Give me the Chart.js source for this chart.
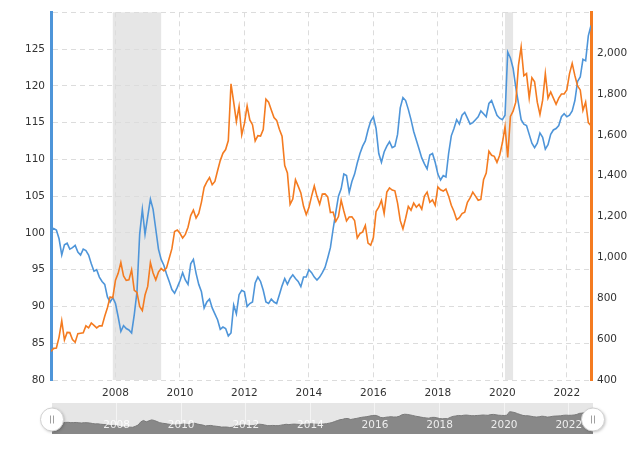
<!DOCTYPE html>
<html>
<head>
<meta charset="utf-8">
<script src="https://cdn.jsdelivr.net/npm/chart.js@4.4.0/dist/chart.umd.min.js"></script>
<style>
  html, body { margin: 0; padding: 0; background: #fff; }
  #wrap { position: relative; width: 640px; height: 450px; }
  #mainChart { position: absolute; left: 0; top: 0; }
  #navChart { position: absolute; left: 0; top: 400px; }
</style>
</head>
<body>
<div id="wrap">
  <canvas id="mainChart" width="640" height="405"></canvas>
  <canvas id="navChart" width="640" height="50"></canvas>
</div>
<script>
// Datos mensuales desde enero 2006
const startYear = 2006;

// Índice del dólar (eje izquierdo)
const dollarIndex = [
  100.2, 100.6, 100.4, 99.2, 97.0, 98.4, 98.6, 97.8, 98.0, 98.3, 97.4, 97.0,
  97.8, 97.6, 97.0, 95.8, 94.8, 95.0, 94.0, 93.4, 93.0, 91.3, 90.6, 91.2,
  90.4, 88.6, 86.6, 87.4, 87.0, 86.8, 86.4, 88.9, 92.0, 99.8, 103.2, 99.8,
  102.2, 104.6, 103.2, 100.5, 97.8, 96.4, 95.6, 94.4, 93.4, 92.3, 91.8, 92.6,
  93.5, 94.6, 93.6, 93.0, 95.8, 96.4, 94.5, 93.0, 92.0, 89.8, 90.6, 91.0,
  89.8, 89.0, 88.2, 86.9, 87.2, 87.0, 86.0, 86.4, 90.2, 89.0, 91.6, 92.2,
  92.0, 90.0, 90.4, 90.6, 93.2, 94.0, 93.4, 92.2, 90.6, 90.4, 91.0, 90.6,
  90.4, 91.6, 92.8, 93.8, 93.0, 93.8, 94.3, 93.8, 93.4, 92.7, 94.0, 94.0,
  95.0, 94.6, 94.0, 93.6, 94.0, 94.6, 95.3, 96.6, 98.0, 100.5, 102.8, 105.0,
  106.0, 108.0, 107.8, 105.5, 107.0, 108.0, 109.5, 110.8, 111.8, 112.5, 114.0, 115.2,
  115.8, 114.2, 110.8, 109.6, 111.0, 111.8, 112.4, 111.6, 111.8, 113.4, 117.0, 118.4,
  118.0, 116.8, 115.4, 113.8, 112.6, 111.4, 110.2, 109.4, 108.7, 110.6, 110.8, 109.6,
  108.0, 107.2, 107.8, 107.6, 110.8, 113.2, 114.2, 115.4, 114.8, 116.0, 116.4, 115.6,
  114.8, 115.0, 115.4, 115.8, 116.6, 116.2, 115.8, 117.6, 118.0, 117.0, 116.0, 115.6,
  115.4, 116.0, 124.6, 123.8, 122.4, 119.8, 117.6, 115.4, 114.8, 114.6, 113.4, 112.2,
  111.6, 112.2, 113.6, 113.0, 111.4, 112.0, 113.4, 114.0, 114.2, 114.6, 115.8, 116.2,
  115.8, 116.0, 116.6, 118.0, 120.6, 121.2, 123.6, 123.4, 126.8, 128.2
];

// Precio del oro (eje derecho)
const goldPrice = [
  540, 555, 557, 610, 690, 596, 633, 632, 598, 585, 627, 629,
  631, 665, 655, 679, 667, 655, 665, 665, 712, 754, 806, 803,
  889, 922, 975, 909, 888, 890, 939, 839, 829, 760, 740, 816,
  858, 975, 924, 890, 928, 946, 934, 949, 996, 1043, 1127, 1134,
  1118, 1095, 1113, 1148, 1205, 1232, 1193, 1215, 1271, 1343, 1370, 1391,
  1356, 1372, 1424, 1474, 1510, 1528, 1572, 1850, 1760, 1665, 1739, 1600,
  1656, 1742, 1673, 1650, 1570, 1596, 1594, 1626, 1775, 1760, 1722, 1685,
  1671, 1627, 1593, 1450, 1414, 1260, 1286, 1380, 1349, 1316, 1250, 1210,
  1244, 1300, 1350, 1299, 1260, 1310, 1311, 1296, 1220, 1222, 1176, 1200,
  1280, 1227, 1179, 1198, 1199, 1181, 1095, 1117, 1125, 1157, 1070, 1060,
  1097, 1225, 1246, 1280, 1215, 1320, 1340, 1330, 1326, 1266, 1180, 1140,
  1192, 1250, 1231, 1266, 1246, 1260, 1236, 1300, 1320, 1270, 1282, 1255,
  1345, 1331, 1325, 1335, 1300, 1255, 1225, 1185, 1195, 1215, 1221, 1270,
  1291, 1320, 1300, 1280, 1284, 1380, 1413, 1520, 1500, 1495, 1465, 1500,
  1560, 1640, 1490, 1690, 1716, 1760, 1940, 2030, 1890, 1900, 1780, 1880,
  1860, 1760, 1700, 1770, 1900, 1780, 1810, 1780, 1750, 1780, 1800, 1800,
  1820, 1900, 1950, 1890, 1840, 1820, 1720, 1760, 1660, 1645
];

// Marcas del eje x y recesiones (en años decimales)
const yearTicks = [2008, 2010, 2012, 2014, 2016, 2018, 2020, 2022];
const recessionStart = [2007.917, 2020.083];
const recessionEnd = [2009.417, 2020.333];

const blueColor = '#4e95d9';
const orangeColor = '#f47b20';
const gridColor = '#dcdcdc';
const fontFamily = '"DejaVu Sans", Verdana, sans-serif';

function toPoints(values) {
    return values.map((v, i) => ({ x: startYear + i / 12, y: v }));
}

const xMin = startYear;
const xMax = startYear + (dollarIndex.length - 1) / 12;

// Sombreado de recesiones
const recessionPlugin = {
    id: 'recessionShade',
    beforeDraw(chart) {
        const { ctx, chartArea, scales } = chart;
        ctx.save();
        ctx.fillStyle = '#e6e6e6';
        recessionStart.forEach((s, i) => {
            const x1 = scales.x.getPixelForValue(s);
            const x2 = scales.x.getPixelForValue(recessionEnd[i]);
            ctx.fillRect(x1, chartArea.top, x2 - x1, chartArea.bottom - chartArea.top);
        });
        ctx.restore();
    }
};

function initMainChart() {
    const ctx = document.getElementById('mainChart').getContext('2d');
    return new Chart(ctx, {
        type: 'line',
        data: {
            datasets: [{
                label: 'Gold',
                data: toPoints(goldPrice),
                yAxisID: 'yRight',
                borderColor: orangeColor,
                borderWidth: 1.6,
                pointRadius: 0,
                tension: 0
            }, {
                label: 'Dollar',
                data: toPoints(dollarIndex),
                yAxisID: 'yLeft',
                borderColor: blueColor,
                borderWidth: 1.6,
                pointRadius: 0,
                tension: 0
            }]
        },
        options: {
            responsive: false,
            animation: false,
            devicePixelRatio: 1,
            layout: { padding: { top: 10, left: 0, right: 0, bottom: 0 } },
            plugins: {
                legend: { display: false },
                tooltip: { enabled: false }
            },
            scales: {
                x: {
                    type: 'linear',
                    min: xMin,
                    max: xMax,
                    afterBuildTicks: (scale) => {
                        scale.ticks = yearTicks.map(v => ({ value: v }));
                    },
                    afterFit: (scale) => { scale.height = 25; },
                    ticks: {
                        callback: (v) => String(v),
                        color: '#333',
                        padding: 7,
                        maxRotation: 0,
                        font: { family: fontFamily, size: 10.5 }
                    },
                    grid: { color: gridColor, drawTicks: false },
                    border: { display: false, dash: [5, 4] }
                },
                yLeft: {
                    position: 'left',
                    min: 80,
                    max: 130,
                    afterFit: (scale) => { scale.width = 51; },
                    ticks: {
                        stepSize: 5,
                        callback: (v) => (v >= 130 ? '' : v),
                        color: '#333',
                        padding: 6,
                        font: { family: fontFamily, size: 10.5 }
                    },
                    grid: { color: gridColor, drawTicks: false },
                    border: { color: blueColor, width: 3, dash: [5, 4] }
                },
                yRight: {
                    position: 'right',
                    min: 400,
                    max: 2200,
                    afterFit: (scale) => { scale.width = 49; },
                    ticks: {
                        stepSize: 200,
                        callback: (v) => (v >= 2200 ? '' : v.toLocaleString('en-US')),
                        color: '#333',
                        padding: 6,
                        font: { family: fontFamily, size: 10.5 }
                    },
                    grid: { drawOnChartArea: false, drawTicks: false },
                    border: { color: orangeColor, width: 3 }
                }
            }
        },
        plugins: [recessionPlugin]
    });
}

// Navegador inferior (fondo, etiquetas y manijas)
const navigatorPlugin = {
    id: 'navigatorDeco',
    beforeDraw(chart) {
        const { ctx, chartArea } = chart;
        ctx.save();
        ctx.fillStyle = '#e6e6e6';
        ctx.fillRect(chartArea.left, chartArea.top, chartArea.right - chartArea.left, chartArea.bottom - chartArea.top);
        ctx.restore();
    },
    afterDraw(chart) {
        const { ctx, chartArea, scales } = chart;
        const cy = (chartArea.top + chartArea.bottom) / 2 + 1;
        ctx.save();
        ctx.fillStyle = 'rgba(255,255,255,0.85)';
        ctx.font = '10.5px ' + fontFamily;
        ctx.textAlign = 'center';
        ctx.textBaseline = 'middle';
        yearTicks.forEach(v => {
            ctx.fillText(String(v), scales.x.getPixelForValue(v), cy + 6);
        });
        [chartArea.left, chartArea.right].forEach(cx => {
            ctx.save();
            ctx.shadowColor = 'rgba(0,0,0,0.25)';
            ctx.shadowBlur = 3;
            ctx.shadowOffsetX = 1;
            ctx.shadowOffsetY = 1;
            ctx.beginPath();
            ctx.arc(cx, cy, 11.5, 0, Math.PI * 2);
            ctx.fillStyle = '#ffffff';
            ctx.fill();
            ctx.restore();
            ctx.strokeStyle = '#d0d0d0';
            ctx.lineWidth = 1;
            ctx.beginPath();
            ctx.arc(cx, cy, 11.5, 0, Math.PI * 2);
            ctx.stroke();
            ctx.strokeStyle = '#a0a0a0';
            ctx.beginPath();
            ctx.moveTo(cx - 1.5, cy - 4); ctx.lineTo(cx - 1.5, cy + 4);
            ctx.moveTo(cx + 1.5, cy - 4); ctx.lineTo(cx + 1.5, cy + 4);
            ctx.stroke();
        });
        ctx.restore();
    }
};

function initNavigator() {
    const ctx = document.getElementById('navChart').getContext('2d');
    return new Chart(ctx, {
        type: 'line',
        data: {
            datasets: [{
                data: toPoints(dollarIndex),
                borderColor: '#7a7a7a',
                backgroundColor: '#888888',
                borderWidth: 1,
                fill: 'start',
                pointRadius: 0,
                tension: 0
            }]
        },
        options: {
            responsive: false,
            animation: false,
            devicePixelRatio: 1,
            layout: { padding: { top: 3, left: 52, right: 47, bottom: 16 } },
            plugins: {
                legend: { display: false },
                tooltip: { enabled: false }
            },
            scales: {
                x: {
                    type: 'linear',
                    min: xMin,
                    max: xMax,
                    z: 1,
                    afterBuildTicks: (scale) => {
                        scale.ticks = yearTicks.map(v => ({ value: v }));
                    },
                    ticks: { display: false },
                    grid: { color: 'rgba(255,255,255,0.55)', drawTicks: false },
                    border: { display: false }
                },
                y: {
                    display: false,
                    min: 70,
                    max: 146
                }
            }
        },
        plugins: [navigatorPlugin]
    });
}

try {
    initMainChart();
    initNavigator();
} catch (error) {
    console.error('Error al crear los gráficos:', error);
}
</script>
</body>
</html>
